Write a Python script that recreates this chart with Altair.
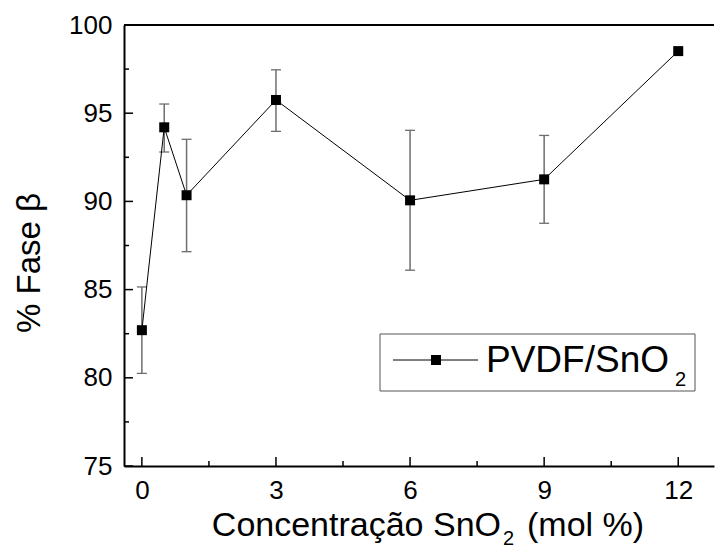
import altair as alt
import pandas as pd

# ---- data ----
conc = [0, 0.5, 1, 3, 6, 9, 12]
beta = [82.7, 94.2, 90.35, 95.75, 90.06, 91.25, 98.52]
err_low = [80.25, 92.8, 87.15, 93.97, 86.1, 88.76, None]
err_high = [85.15, 95.52, 93.52, 97.46, 94.03, 93.74, None]

x_major = [0, 3, 6, 9, 12]
x_minor = [1.5, 4.5, 7.5, 10.5]
y_major = [75, 80, 85, 90, 95, 100]
y_minor = [77.5, 82.5, 87.5, 92.5, 97.5]

series_name = "PVDF/SnO"
series_sub = "2"
x_title_main = "Concentração SnO"
x_title_sub = "2"
x_title_tail = "(mol %)"
y_title = "% Fase β"

FONT = "Liberation Sans"
W, H = 590, 441

df = pd.DataFrame({"x": conc, "y": beta, "lo": err_low, "hi": err_high})
df_err = df.dropna()

xs = alt.Scale(domain=[-0.4, 12.8], nice=False, zero=False)
ys = alt.Scale(domain=[75, 100], nice=False, zero=False)

xax = alt.Axis(values=x_major, title=None, ticks=False, tickSize=0, grid=False,
               labelPadding=11, labelFontSize=26, labelFont=FONT, labelColor="black",
               domainColor="black", domainWidth=2, labelFlush=False)
yax = alt.Axis(values=y_major, title=None, ticks=False, tickSize=0, grid=False,
               labelPadding=12, labelFontSize=26, labelFont=FONT, labelColor="black",
               domainColor="black", domainWidth=2, labelFlush=False)

X = alt.X("x:Q", scale=xs, axis=xax)
Y = alt.Y("y:Q", scale=ys, axis=yax)

base = alt.Chart(df)

err_rule = alt.Chart(df_err).mark_rule(color="#6e6e6e", strokeWidth=1.5).encode(
    x=X, y=alt.Y("lo:Q", scale=ys), y2="hi:Q")
cap_lo = alt.Chart(df_err).mark_tick(orient="horizontal", size=10, thickness=1.3,
                                      color="#6e6e6e", opacity=1).encode(
    x=X, y=alt.Y("lo:Q", scale=ys))
cap_hi = alt.Chart(df_err).mark_tick(orient="horizontal", size=10, thickness=1.3,
                                      color="#6e6e6e", opacity=1).encode(
    x=X, y=alt.Y("hi:Q", scale=ys))

line = base.mark_line(color="black", strokeWidth=1).encode(x=X, y=Y)
pts = base.mark_point(shape="square", filled=True, size=100, color="black",
                      opacity=1).encode(x=X, y=Y)

# inward ticks
xt_major = alt.Chart(pd.DataFrame({"x": x_major})).mark_rule(color="black", strokeWidth=1.5).encode(
    x=X, y=alt.value(H), y2=alt.value(H - 9))
xt_minor = alt.Chart(pd.DataFrame({"x": x_minor})).mark_rule(color="black", strokeWidth=1.5).encode(
    x=X, y=alt.value(H), y2=alt.value(H - 5))
yt_major = alt.Chart(pd.DataFrame({"y": y_major})).mark_rule(color="black", strokeWidth=1.5).encode(
    y=Y, x=alt.value(0), x2=alt.value(9))
yt_minor = alt.Chart(pd.DataFrame({"y": y_minor})).mark_rule(color="black", strokeWidth=1.5).encode(
    y=Y, x=alt.value(0), x2=alt.value(5))

one = alt.Data(values=[{"a": 1}])
top_border = alt.Chart(one).mark_rule(color="black", strokeWidth=2).encode(
    x=alt.value(0), x2=alt.value(W), y=alt.value(0))

# legend
leg_box = alt.Chart(one).mark_rect(fill="white", stroke="#555555", strokeWidth=1).encode(
    x=alt.value(256), x2=alt.value(571), y=alt.value(309), y2=alt.value(366))
leg_line = alt.Chart(one).mark_rule(color="black", strokeWidth=1).encode(
    x=alt.value(269), x2=alt.value(354), y=alt.value(335))
leg_pt = alt.Chart(one).mark_point(shape="square", filled=True, size=100, color="black",
                                   opacity=1).encode(x=alt.value(312), y=alt.value(335))
leg_txt = alt.Chart(one).mark_text(text=series_name, font=FONT, fontSize=37, align="right",
                                   baseline="alphabetic", color="black").encode(
    x=alt.value(545), y=alt.value(347))
leg_sub = alt.Chart(one).mark_text(text=series_sub, font=FONT, fontSize=20, align="left",
                                   baseline="alphabetic", color="black").encode(
    x=alt.value(551), y=alt.value(361))

# axis titles
xt1 = alt.Chart(one).mark_text(text=x_title_main, font=FONT, fontSize=34, align="right",
                               baseline="alphabetic", color="black").encode(
    x=alt.value(377), y=alt.value(511))
xt2 = alt.Chart(one).mark_text(text=x_title_sub, font=FONT, fontSize=20, align="left",
                               baseline="alphabetic", color="black").encode(
    x=alt.value(379), y=alt.value(520))
xt3 = alt.Chart(one).mark_text(text=x_title_tail, font=FONT, fontSize=34, align="left",
                               baseline="alphabetic", color="black").encode(
    x=alt.value(403), y=alt.value(511))
yt = alt.Chart(one).mark_text(text=y_title, font=FONT, fontSize=33, align="center",
                              baseline="alphabetic", angle=270, color="black").encode(
    x=alt.value(-84), y=alt.value(238))

chart = alt.layer(
    err_rule, cap_lo, cap_hi, line, pts,
    xt_major, xt_minor, yt_major, yt_minor, top_border,
    leg_box, leg_line, leg_pt, leg_txt, leg_sub,
    xt1, xt2, xt3, yt,
).properties(
    width=W, height=H,
    autosize=alt.AutoSizeParams(type="none"),
    padding={"left": 124, "top": 25, "right": 1, "bottom": 85},
    background="white",
).configure_view(stroke=None)

chart.save("out.html", embed_options={"renderer": "svg", "actions": False})
